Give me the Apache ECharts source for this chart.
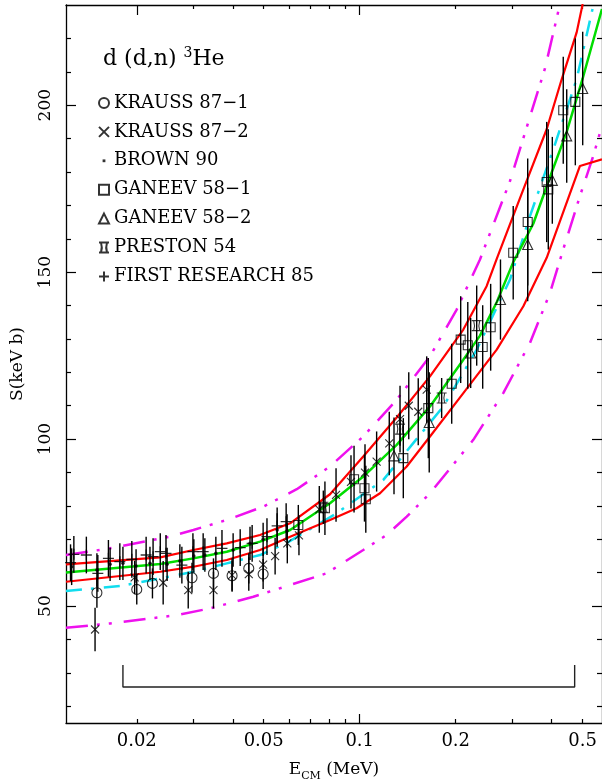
<!DOCTYPE html>
<html>
<head>
<meta charset="utf-8">
<script src="https://cdn.jsdelivr.net/npm/echarts@6/dist/echarts.min.js"></script>
<style>
html, body { margin: 0; padding: 0; background: #ffffff; }
#chart { width: 602px; height: 780px; }
</style>
</head>
<body>
<div id="chart"></div>
<script>
// ---------------- data (E in MeV, S in keV b) ----------------
// theory / fit curves
const upperRedE = [0.0120, 0.0237, 0.0301, 0.0383, 0.0487, 0.0605, 0.0807, 0.1026, 0.1306, 0.1661, 0.2113, 0.2500, 0.2689, 0.3223, 0.3857, 0.4284, 0.4789, 0.5001];
const upperRedS = [62.5, 64.6, 66.8, 68.8, 71.3, 74.8, 83.5, 94.8, 106.5, 118.8, 132.8, 145.8, 154.0, 173.6, 192.8, 207.3, 221.8, 230.3];
const greenE = [0.0120, 0.0237, 0.0301, 0.0383, 0.0487, 0.0605, 0.0807, 0.1026, 0.1306, 0.1661, 0.2113, 0.2383, 0.2689, 0.3030, 0.3501, 0.3951, 0.4456, 0.5001, 0.5748];
const greenS = [60.1, 62.6, 64.3, 66.3, 69.3, 72.8, 80.8, 88.8, 98.3, 109.8, 123.8, 131.0, 141.0, 153.0, 164.5, 178.5, 192.0, 208.0, 228.8];
const cyanE = [0.0120, 0.0177, 0.0237, 0.0301, 0.0383, 0.0487, 0.0600, 0.0847, 0.1186, 0.1472, 0.1829, 0.2327, 0.2960, 0.3418, 0.4046, 0.4789, 0.5399];
const cyanS = [54.5, 56.0, 58.3, 60.3, 62.8, 65.3, 69.3, 77.8, 87.8, 98.8, 109.8, 126.8, 147.8, 166.8, 186.8, 207.8, 229.8];
const lowerRedE = [0.0120, 0.0237, 0.0301, 0.0383, 0.0487, 0.0605, 0.0807, 0.0978, 0.1158, 0.1404, 0.1661, 0.2113, 0.2689, 0.3259, 0.3857, 0.4904, 0.5748];
const lowerRedS = [57.3, 60.3, 61.8, 63.8, 66.8, 70.8, 75.8, 79.3, 83.8, 91.8, 100.8, 113.8, 126.8, 139.8, 154.3, 181.8, 183.8];
const upperMagE = [0.0120, 0.0165, 0.0210, 0.0254, 0.0301, 0.0383, 0.0499, 0.0635, 0.0807, 0.1026, 0.1306, 0.1661, 0.2014, 0.2383, 0.2960, 0.3418, 0.3810, 0.4246];
const upperMagS = [65.3, 67.3, 69.3, 70.8, 72.8, 75.8, 79.8, 85.0, 91.8, 100.8, 111.8, 124.8, 138.8, 153.8, 177.3, 196.5, 211.0, 230.3];
const lowerMagE = [0.0120, 0.0165, 0.0220, 0.0267, 0.0339, 0.0464, 0.0786, 0.1026, 0.1215, 0.1404, 0.1661, 0.2271, 0.2819, 0.3418, 0.3951, 0.4346, 0.4904, 0.5399, 0.5748];
const lowerMagS = [43.5, 44.8, 46.3, 47.3, 49.3, 52.8, 59.8, 66.8, 71.3, 76.8, 83.8, 99.8, 113.8, 128.8, 143.8, 156.8, 172.8, 184.8, 193.8];

// Gamow-window bracket
const bracketE = [0.0181, 0.0181, 0.472, 0.472];
const bracketS = [32.4, 25.8, 25.8, 32.4];

// measurements
const krauss1E = [0.0150, 0.0200, 0.0224, 0.0298, 0.0348, 0.0398, 0.0449, 0.0498];
const krauss1S = [54.0, 55.0, 56.8, 58.5, 59.8, 59.1, 61.3, 59.6];
const krauss1Err = [4.5, 4.5, 4.5, 4.5, 4.5, 4.5, 4.5, 4.5];

const krauss2E = [0.0148, 0.0197, 0.0242, 0.0290, 0.0348, 0.0398, 0.0449, 0.0498, 0.0543, 0.0593, 0.0645, 0.0747, 0.0843, 0.0939, 0.1039, 0.1130, 0.1238, 0.1338, 0.1425, 0.1526, 0.1622];
const krauss2S = [43.0, 58.6, 57.0, 54.8, 54.8, 59.3, 59.6, 62.4, 65.0, 68.8, 71.2, 79.0, 83.3, 87.2, 90.0, 93.3, 98.7, 106.0, 110.0, 108.2, 114.8];
const krauss2Err = [6.5, 5.0, 6.5, 5.5, 5.5, 5.0, 5.0, 5.0, 5.5, 6.0, 6.0, 7.0, 8.0, 8.0, 8.5, 9.0, 9.5, 10.0, 10.0, 10.0, 10.0];

const brownE = [0.0125, 0.0150, 0.0165, 0.0181, 0.0199, 0.0220, 0.0249, 0.0273, 0.0302, 0.0327, 0.0354, 0.0401, 0.0453, 0.0498, 0.0551, 0.0592];
const brownS = [61.8, 60.8, 62.5, 62.8, 62.0, 62.8, 62.5, 63.5, 65.0, 65.3, 65.8, 66.8, 68.8, 70.0, 72.8, 72.5];
const brownErr = [5.5, 5.0, 5.0, 5.0, 5.0, 5.0, 5.0, 5.0, 5.0, 5.0, 5.0, 5.0, 5.0, 5.0, 5.0, 5.0];

const ganeev1E = [0.0642, 0.0778, 0.0960, 0.1035, 0.1045, 0.1370, 0.1641, 0.1943, 0.2073, 0.2182, 0.2430, 0.2574, 0.3029, 0.3363, 0.3857, 0.3902, 0.4347, 0.4743];
const ganeev1S = [74.3, 79.3, 88.0, 85.3, 82.0, 94.3, 109.3, 116.6, 129.8, 128.1, 127.6, 133.5, 155.8, 165.0, 177.0, 174.8, 198.5, 201.0];
const ganeev1Err = [6, 8, 10, 10, 10, 12, 15, 12, 13, 13, 12.5, 13, 14, 19, 18, 18, 16, 19];

const ganeev2E = [0.1281, 0.1652, 0.2228, 0.2763, 0.3363, 0.4017, 0.4457, 0.5002];
const ganeev2S = [95.0, 105.0, 125.8, 141.8, 158.3, 177.5, 190.8, 205.0];
const ganeev2Err = [11.5, 15, 10.5, 12, 17, 13, 14, 17];

const prestonE = [0.0769, 0.1338, 0.1807, 0.2327];
const prestonS = [79.6, 103.0, 112.3, 134.0];
const prestonErr = [5, 5, 6, 12];

const firstE = [0.0124, 0.0127, 0.0139, 0.0151, 0.0163, 0.0177, 0.0193, 0.0214, 0.0225, 0.0237, 0.0247, 0.0277, 0.0300, 0.0323, 0.0370, 0.0422, 0.0460, 0.0512, 0.0551, 0.0588];
const firstS = [63.0, 65.5, 65.3, 59.8, 64.3, 63.3, 64.0, 65.3, 64.8, 66.3, 65.8, 62.3, 66.3, 66.3, 67.3, 67.5, 68.8, 70.8, 74.0, 75.3];
const firstErr = [5.5, 5.5, 5.5, 5.5, 5.5, 5.5, 5.5, 5.5, 5.5, 5.5, 5.5, 5.5, 5.5, 5.5, 5.5, 5.5, 5.5, 5.5, 5.5, 5.5];

// axis ticks / labels
const xMin = 0.0120, xMax = 0.575;
const xLabels = [0.02, 0.05, 0.1, 0.2, 0.5];
const xTicksBottomLong = [0.1];
const xTicksBottomShort = [0.02, 0.03, 0.04, 0.05, 0.06, 0.07, 0.08, 0.09, 0.2, 0.3, 0.4, 0.5];
const xTicksTopLong = [0.02, 0.1];
const xTicksTopShort = [0.03, 0.04, 0.05, 0.06, 0.07, 0.08, 0.09, 0.2, 0.3, 0.4, 0.5];
const yMin = 15, yMax = 230;
const yLabels = [50, 100, 150, 200];
const yTicksMinor = [20, 30, 40, 60, 70, 80, 90, 110, 120, 130, 140, 160, 170, 180, 190, 210, 220];

// ---------------- chart ----------------
const FONT = 'DejaVu Serif';
const pairs = (xs, ys) => xs.map((x, i) => [x, ys[i]]);
const bars = (xs, ys, es) => xs.map((x, i) => [x, ys[i] - es[i], ys[i] + es[i]]);

const errData = [].concat(
  bars(krauss1E, krauss1S, krauss1Err),
  bars(krauss2E, krauss2S, krauss2Err),
  bars(brownE, brownS, brownErr),
  bars(ganeev1E, ganeev1S, ganeev1Err),
  bars(ganeev2E, ganeev2S, ganeev2Err),
  bars(prestonE, prestonS, prestonErr),
  bars(firstE, firstS, firstErr)
);

const axisLineStyle = { color: '#000', width: 1.3 };
const tickStyle = { color: '#000', width: 1.2 };

function xAxisDef(position, showLine, ticks, len, labels) {
  return {
    type: 'log', logBase: 10, min: xMin, max: xMax, position: position, gridIndex: 0,
    axisLine: { show: showLine, onZero: false, lineStyle: axisLineStyle },
    axisTick: { show: true, inside: true, length: len, customValues: ticks, lineStyle: tickStyle },
    minorTick: { show: false },
    axisLabel: labels ? {
      show: true, customValues: labels, margin: 9,
      fontFamily: FONT, fontSize: 18, color: '#000',
      formatter: v => String(parseFloat(Number(v).toPrecision(3)))
    } : { show: false },
    splitLine: { show: false }
  };
}
function yAxisDef(position, showLine, ticks, len, labels) {
  return {
    type: 'value', min: yMin, max: yMax, position: position, gridIndex: 0,
    axisLine: { show: showLine, onZero: false, lineStyle: axisLineStyle },
    axisTick: { show: true, inside: true, length: len, customValues: ticks, lineStyle: tickStyle },
    minorTick: { show: false },
    axisLabel: labels ? {
      show: true, customValues: labels, rotate: 90, margin: 12,
      fontFamily: FONT, fontSize: 17, color: '#000'
    } : { show: false },
    splitLine: { show: false }
  };
}

const xAxes = [
  xAxisDef('bottom', true, xTicksBottomLong, 9, xLabels),
  xAxisDef('bottom', false, xTicksBottomShort, 4, null),
  xAxisDef('top', true, xTicksTopLong, 10, null),
  xAxisDef('top', false, xTicksTopShort, 4, null)
];
xAxes[0].name = '{e|E}{s|CM}{e| (MeV)}';
xAxes[0].nameLocation = 'middle';
xAxes[0].nameGap = 35;
xAxes[0].nameTextStyle = {
  rich: {
    e: { fontFamily: FONT, fontSize: 17, color: '#000', lineHeight: 24 },
    s: { fontFamily: FONT, fontSize: 11, color: '#000', lineHeight: 12, verticalAlign: 'bottom' }
  }
};

const yAxes = [
  yAxisDef('left', true, yLabels, 10, yLabels),
  yAxisDef('left', false, yTicksMinor, 5, null),
  yAxisDef('right', true, yLabels, 10, null),
  yAxisDef('right', false, yTicksMinor, 5, null)
];
yAxes[0].name = 'S(keV b)';
yAxes[0].nameLocation = 'middle';
yAxes[0].nameGap = 40;
yAxes[0].nameTextStyle = { fontFamily: FONT, fontSize: 17, color: '#000' };

const hollow = { color: 'rgba(0,0,0,0)', borderColor: '#000', borderWidth: 1.1 };
const hollowPlus = { color: 'rgba(0,0,0,0)', borderColor: '#000', borderWidth: 1.3 };
const SYM_X = 'path://M0,0L10,10M10,0L0,10';
const SYM_PLUS = 'path://M5,0L5,10M0,5L10,5';
const SYM_PRESTON = 'path://M0,0L10,0M0,10L10,10M2,0Q3.6,5 2,10M8,0Q6.4,5 8,10';
const SYM_DOT_LEGEND = 'path://M0,0M10,10M3.6,3.6L6.4,3.6L6.4,6.4L3.6,6.4Z';

function curve(xs, ys, color, width, type, z) {
  return {
    type: 'line', data: pairs(xs, ys), showSymbol: false, symbol: 'none',
    xAxisIndex: 0, yAxisIndex: 0, silent: true, z: z, clip: true,
    lineStyle: { color: color, width: width, type: type, cap: 'butt' }
  };
}

const names = ['KRAUSS 87\u22121', 'KRAUSS 87\u22122', 'BROWN 90', 'GANEEV 58\u22121', 'GANEEV 58\u22122', 'PRESTON 54', 'FIRST RESEARCH 85'];

const option = {
  animation: false,
  backgroundColor: '#ffffff',
  grid: { left: 66, right: 0, top: 5, bottom: 57, containLabel: false, outerBoundsMode: 'none' },
  title: {
    text: '{a|d (d,n) }{s|3}{a|He}',
    left: 98, top: 41,
    textStyle: {
      fontWeight: 'normal',
      rich: {
        a: { fontFamily: FONT, fontSize: 22, fontWeight: 'normal', color: '#000', lineHeight: 26 },
        s: { fontFamily: FONT, fontSize: 14, fontWeight: 'normal', color: '#000', lineHeight: 14, verticalAlign: 'top' }
      }
    }
  },
  legend: {
    orient: 'vertical', left: 93, top: 88,
    itemWidth: 10, itemHeight: 10, itemGap: 8.9,
    selectedMode: false,
    textStyle: { fontFamily: FONT, fontSize: 18, color: '#000', lineHeight: 20 },
    data: [
      { name: names[0] }, { name: names[1] }, { name: names[2], icon: SYM_DOT_LEGEND },
      { name: names[3] }, { name: names[4] }, { name: names[5] }, { name: names[6] }
    ]
  },
  xAxis: xAxes,
  yAxis: yAxes,
  series: [
    curve(lowerMagE, lowerMagS, '#ee11ee', 2.5, [22, 9, 3, 9, 3, 12], 2),
    curve(upperMagE, upperMagS, '#ee11ee', 2.5, [22, 9, 3, 9, 3, 12], 2),
    curve(cyanE, cyanS, '#11ddee', 2.5, [16, 9, 3, 10], 2),
    curve(lowerRedE, lowerRedS, '#ff0000', 2.2, 'solid', 3),
    curve(upperRedE, upperRedS, '#ff0000', 2.2, 'solid', 3),
    curve(greenE, greenS, '#00dd00', 2.5, 'solid', 3),
    {
      type: 'line', data: pairs(bracketE, bracketS), showSymbol: false, symbol: 'none',
      xAxisIndex: 0, yAxisIndex: 0, silent: true, z: 3,
      lineStyle: { color: '#222', width: 1.4 }
    },
    {
      type: 'custom', xAxisIndex: 0, yAxisIndex: 0, silent: true, z: 4,
      data: errData, encode: { x: 0, y: [1, 2] },
      renderItem: function (params, api) {
        const a = api.coord([api.value(0), api.value(1)]);
        const b = api.coord([api.value(0), api.value(2)]);
        return { type: 'line', shape: { x1: a[0], y1: a[1], x2: b[0], y2: b[1] }, style: { stroke: '#000', lineWidth: 1.4 } };
      }
    },
    { name: names[0], type: 'scatter', data: pairs(krauss1E, krauss1S), symbol: 'circle', symbolSize: 10, itemStyle: hollow, z: 5, silent: true },
    { name: names[1], type: 'scatter', data: pairs(krauss2E, krauss2S), symbol: SYM_X, symbolSize: 8, itemStyle: hollow, z: 5, silent: true },
    { name: names[2], type: 'scatter', data: pairs(brownE, brownS), symbol: 'circle', symbolSize: 3.5, itemStyle: { color: '#000' }, z: 5, silent: true },
    { name: names[3], type: 'scatter', data: pairs(ganeev1E, ganeev1S), symbol: 'rect', symbolSize: 9, itemStyle: hollow, z: 5, silent: true },
    { name: names[4], type: 'scatter', data: pairs(ganeev2E, ganeev2S), symbol: 'triangle', symbolSize: 10, itemStyle: hollow, z: 5, silent: true },
    { name: names[5], type: 'scatter', data: pairs(prestonE, prestonS), symbol: SYM_PRESTON, symbolSize: 10, itemStyle: hollow, z: 5, silent: true },
    { name: names[6], type: 'scatter', data: pairs(firstE, firstS), symbol: SYM_PLUS, symbolSize: 11, itemStyle: hollowPlus, z: 5, silent: true }
  ]
};

const chart = echarts.init(document.getElementById('chart'), null, { renderer: 'canvas' });
chart.setOption(option);
</script>
</body>
</html>
